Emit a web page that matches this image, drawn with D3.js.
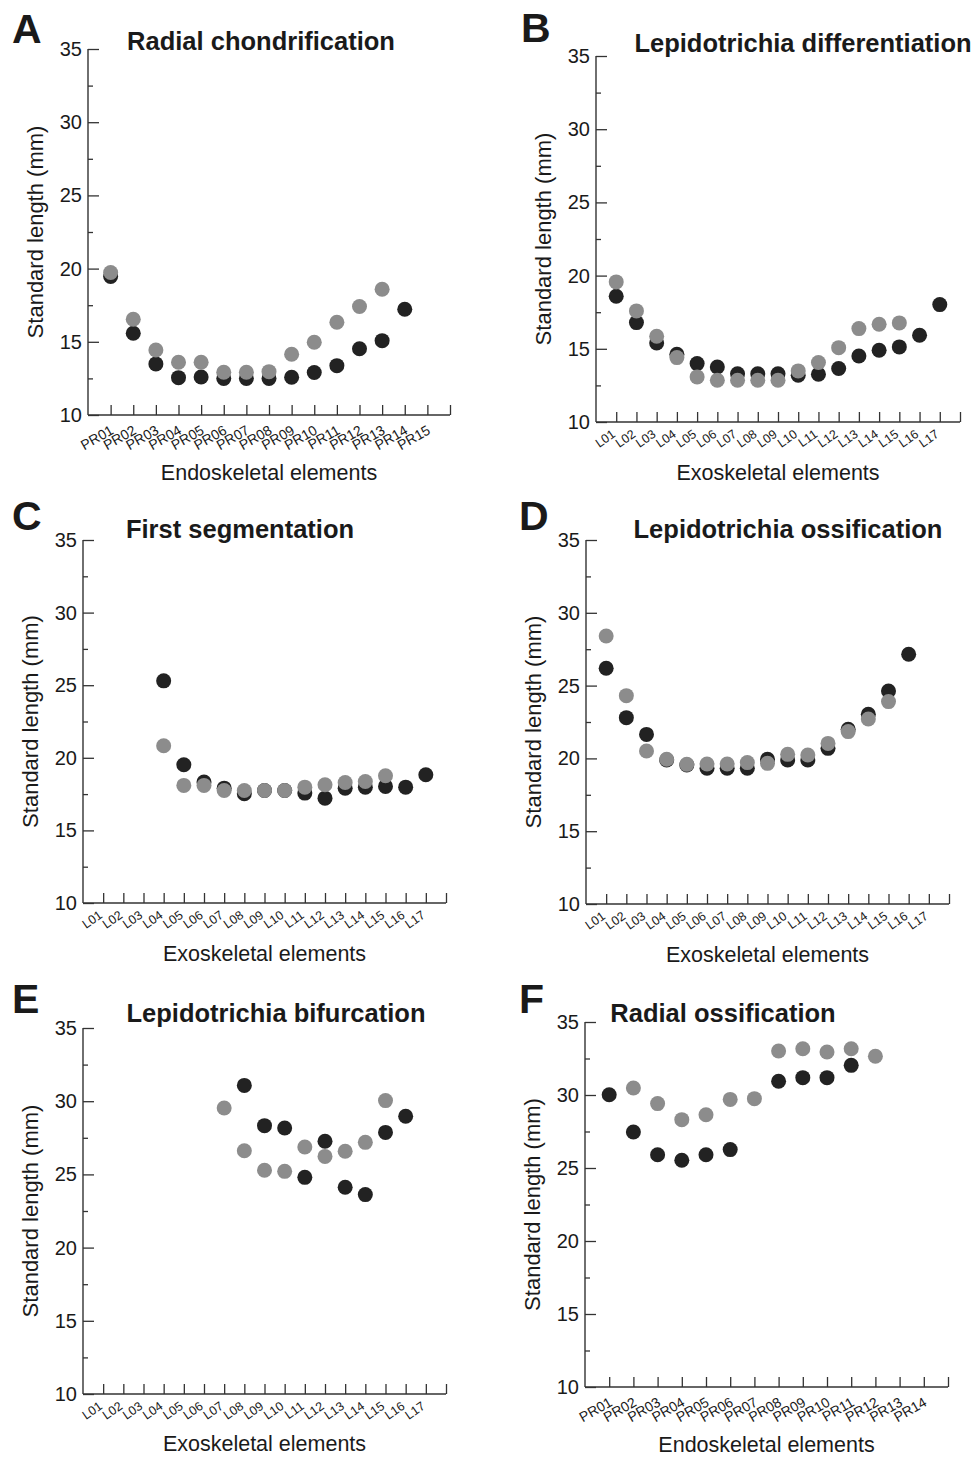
<!DOCTYPE html>
<html>
<head>
<meta charset="utf-8">
<script src="https://cdn.jsdelivr.net/npm/d3@7"></script>
<style>
body { margin:0; background:#fff; }
text { font-family: "Liberation Sans", Arial, sans-serif; fill:#1a1a1a; }
</style>
</head>
<body>
<div id="chart"></div>
<script>
// category labels
var prLabels = ["PR01","PR02","PR03","PR04","PR05","PR06","PR07","PR08","PR09","PR10","PR11","PR12","PR13","PR14","PR15"];
var lLabels = ["L01","L02","L03","L04","L05","L06","L07","L08","L09","L10","L11","L12","L13","L14","L15","L16","L17"];
var yTicks = [10,15,20,25,30,35];
var yMinor = [12.5,17.5,22.5,27.5,32.5];

// A - radial chondrification (PR01..PR15)
var aDark = [19.46,15.58,13.49,12.55,12.6,12.5,12.5,12.5,12.58,12.9,13.37,14.53,15.08,17.22,null];
var aGray = [19.73,16.54,14.44,13.6,13.6,12.92,12.92,12.96,14.15,14.97,16.34,17.41,18.59,null,null];
// B - lepidotrichia differentiation (L01..L17)
var bDark = [18.59,16.79,15.4,14.63,13.99,13.76,13.3,13.3,13.3,13.19,13.26,13.65,14.51,14.9,15.13,15.93,18.02];
var bGray = [19.57,17.59,15.86,14.4,13.08,12.85,12.85,12.85,12.85,13.49,14.06,15.08,16.38,16.68,16.77,null,null];
// C - first segmentation
var cDark = [null,null,null,25.3,19.52,18.33,17.91,17.52,17.75,17.75,17.57,17.22,17.91,17.98,18.03,17.98,18.83];
var cGray = [null,null,null,20.83,18.1,18.1,17.75,17.75,17.75,17.75,17.98,18.14,18.3,18.37,18.76,null,null];
// D - lepidotrichia ossification
var dDark = [26.19,22.8,21.65,19.89,19.55,19.32,19.32,19.32,19.94,19.89,19.89,20.69,22.0,23.03,24.63,27.15,null];
var dGray = [28.41,24.31,20.51,19.94,19.59,19.62,19.62,19.71,19.66,20.28,20.23,21.03,21.84,22.71,23.9,null,null];
// E - lepidotrichia bifurcation
var eDark = [null,null,null,null,null,null,null,31.08,28.33,28.17,24.8,27.26,24.12,23.62,27.87,28.97,null];
var eGray = [null,null,null,null,null,null,29.54,26.62,25.28,25.21,26.87,26.23,26.58,27.19,30.04,null,null];
// F - radial ossification (PR01..PR14)
var fDark = [30.02,27.47,25.91,25.53,25.91,26.26,null,30.94,31.19,31.19,32.03,null,null,null];
var fGray = [null,30.48,29.41,28.31,28.65,29.7,29.75,33.01,33.17,32.95,33.17,32.65,null,null];

var darkColor = "#222222";
var grayColor = "#8c8c8c";

var svg = d3.select("#chart").append("svg")
	.attr("width", 976).attr("height", 1457)
	.style("background","#fff");

function drawPanel(p){
	var g = svg.append("g");
	var n = p.labels.length;
	var x = d3.scaleLinear().domain([0, n + 1]).range([p.x0, p.x1]);
	var y = d3.scaleLinear().domain([10, 35]).range([p.yBot, p.yTop]);

	// y axis, ticks pointing inward
	var yAxis = d3.axisRight(y).tickValues(yTicks).tickSize(11).tickFormat("");
	var ya = g.append("g").attr("transform","translate(" + p.x0 + ",0)").call(yAxis);
	var yAxisMinor = d3.axisRight(y).tickValues(yMinor).tickSize(5).tickFormat("");
	var ym = g.append("g").attr("transform","translate(" + p.x0 + ",0)").call(yAxisMinor);
	ym.select(".domain").remove();
	[ya, ym].forEach(function(s){
		s.selectAll("line").attr("stroke","#333").attr("stroke-width",1.3);
		s.select(".domain").attr("stroke","#333").attr("stroke-width",1.4).attr("d","M0," + p.yTop + "V" + p.yBot);
	});
	g.selectAll(".ylab").data(yTicks).enter().append("text")
		.attr("x", p.x0 - 6).attr("y", function(d){ return y(d); })
		.attr("dy","0.35em").attr("text-anchor","end")
		.style("font-size","20px").text(function(d){ return d; });

	// x axis, ticks pointing up
	var xt = d3.range(1, n + 2);
	var xAxis = d3.axisTop(x).tickValues(xt).tickSize(10).tickFormat("");
	var xa = g.append("g").attr("transform","translate(0," + p.yBot + ")").call(xAxis);
	xa.selectAll("line").attr("stroke","#333").attr("stroke-width",1.3);
	xa.select(".domain").attr("stroke","#333").attr("stroke-width",1.4).attr("d","M" + p.x0 + ",0H" + p.x1);

	g.selectAll(".xlab").data(p.labels).enter().append("text")
		.attr("transform", function(d,i){
			return "translate(" + (x(i + 1) + p.lx) + "," + (p.yBot + p.ly) + ") rotate(" + p.rot + ")";
		})
		.attr("text-anchor","end")
		.style("font-size", p.lfs + "px").text(function(d){ return d; });

	// axis titles
	g.append("text")
		.attr("transform","translate(" + (p.x0 - 53) + "," + ((p.yTop + p.yBot) / 2) + ") rotate(-90)")
		.attr("dy","0.35em").attr("text-anchor","middle")
		.style("font-size","22px").text("Standard length (mm)");
	g.append("text")
		.attr("x", (p.x0 + p.x1) / 2).attr("y", p.xlY)
		.attr("text-anchor","middle").style("font-size","21.5px").text(p.xTitle);

	// panel title and letter
	g.append("text").attr("x", p.tx).attr("y", p.ty).attr("text-anchor","middle")
		.style("font-size", p.tfs + "px").style("font-weight","bold").text(p.title);
	g.append("text").attr("x", p.letX).attr("y", p.letY)
		.style("font-size","41px").style("font-weight","bold").text(p.letter);

	// points: dark first, gray on top
	[[p.dark, darkColor], [p.gray, grayColor]].forEach(function(s){
		var pts = s[0].map(function(v,i){ return {i:i, v:v}; }).filter(function(d){ return d.v != null; });
		g.append("g").selectAll("circle").data(pts).enter().append("circle")
			.attr("cx", function(d){ return x(d.i + 1); })
			.attr("cy", function(d){ return y(d.v); })
			.attr("r", 7.5)
			.attr("fill", s[1]);
	});
}

drawPanel({letter:"A", title:"Radial chondrification", labels:prLabels, dark:aDark, gray:aGray,
	x0:88, x1:450, yTop:49, yBot:415, tx:261, ty:50, tfs:25.5, letX:12, letY:43,
	xTitle:"Endoskeletal elements", xlY:480, lx:4, ly:18, rot:-30, lfs:14});
drawPanel({letter:"B", title:"Lepidotrichia differentiation", labels:lLabels, dark:bDark, gray:bGray,
	x0:596, x1:960, yTop:56, yBot:422, tx:803, ty:52, tfs:25.5, letX:521, letY:42,
	xTitle:"Exoskeletal elements", xlY:480, lx:0, ly:14, rot:-35, lfs:12.5});
drawPanel({letter:"C", title:"First segmentation", labels:lLabels, dark:cDark, gray:cGray,
	x0:83, x1:446, yTop:540, yBot:903, tx:240, ty:538, tfs:25.5, letX:12, letY:530,
	xTitle:"Exoskeletal elements", xlY:961, lx:0, ly:14, rot:-35, lfs:12.5});
drawPanel({letter:"D", title:"Lepidotrichia ossification", labels:lLabels, dark:dDark, gray:dGray,
	x0:586, x1:949, yTop:540, yBot:904, tx:788, ty:538, tfs:25.5, letX:519, letY:530,
	xTitle:"Exoskeletal elements", xlY:962, lx:0, ly:14, rot:-35, lfs:12.5});
drawPanel({letter:"E", title:"Lepidotrichia bifurcation", labels:lLabels, dark:eDark, gray:eGray,
	x0:83, x1:446, yTop:1028, yBot:1394, tx:276, ty:1022, tfs:25.5, letX:12, letY:1013,
	xTitle:"Exoskeletal elements", xlY:1451, lx:0, ly:14, rot:-35, lfs:12.5});
drawPanel({letter:"F", title:"Radial ossification", labels:prLabels.slice(0,14), dark:fDark, gray:fGray,
	x0:585, x1:948, yTop:1022, yBot:1387, tx:723, ty:1022, tfs:25.5, letX:519, letY:1013,
	xTitle:"Endoskeletal elements", xlY:1452, lx:4, ly:18, rot:-30, lfs:14});
</script>
</body>
</html>
